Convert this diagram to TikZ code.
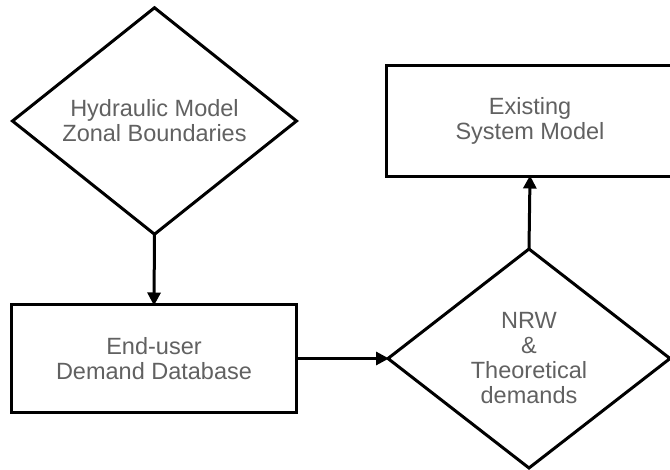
\documentclass[tikz,border=0pt]{standalone}
\usepackage{fontspec}
\setmainfont{Liberation Sans}
\usetikzlibrary{shapes.geometric,arrows.meta}
\begin{document}
\begin{tikzpicture}[x=1pt,y=-1pt,
  lbl/.style={text=black!62, font=\fontsize{23.5}{25}\selectfont, align=center},
  boxnode/.style={lbl, draw=black, line width=3pt, rectangle, inner sep=0pt, outer sep=0pt},
  dnode/.style={lbl, draw=black, line width=3pt, diamond, inner sep=0pt, outer sep=0pt},
  conn/.style={line width=3pt, -{Triangle[length=13pt,width=13pt]}, shorten >=-1pt}
]
\clip (0,0) rectangle (670,470);
\fill[white] (0,0) rectangle (670,470);
\node[dnode, minimum width=284pt, minimum height=221pt] (d1) at (154.5,121) {Hydraulic Model\\Zonal Boundaries};
\node[boxnode, minimum width=285pt, minimum height=108pt] (b2) at (154,358.5) {End-user\\Demand Database};
\node[dnode, minimum width=282pt, minimum height=219pt] (d2) at (529,358.5) {NRW\\\&\\Theoretical\\demands};
\node[boxnode, minimum width=288pt, minimum height=111pt] (b3) at (530,121) {Existing\\System Model};
\draw[conn] (d1.south) -- (b2.north);
\draw[conn] (b2.east) -- (d2.west);
\draw[conn] (d2.north) -- (b3.south);
\end{tikzpicture}
\end{document}
